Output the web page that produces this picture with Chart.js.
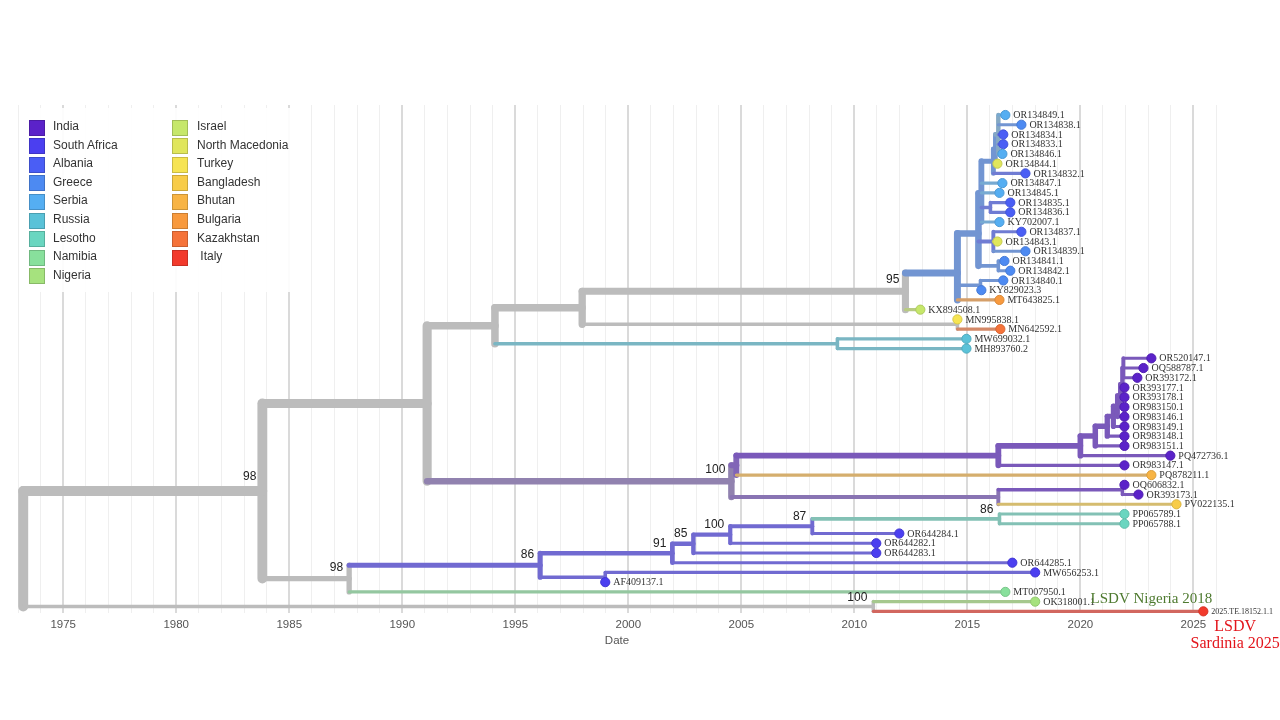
<!DOCTYPE html>
<html><head><meta charset="utf-8">
<script src="https://cdn.jsdelivr.net/npm/chart.js@4.4.1/dist/chart.umd.min.js"></script>
<style>
html,body{margin:0;padding:0;background:#fff;}
#wrap{position:relative;width:1280px;height:720px;overflow:hidden;}
#legend{position:absolute;left:20px;top:108px;width:272px;height:184px;background:rgba(255,255,255,0.9);}
.li{position:absolute;font:12px "Liberation Sans",Arial,sans-serif;color:#333;white-space:pre;line-height:14px;}
.sw{position:absolute;width:14px;height:14px;border:1.5px solid;box-sizing:content-box;}
</style></head><body>
<div id="wrap"><canvas id="c" width="1280" height="720"></canvas><div id="legend"></div></div>
<script>
// ---------------- DATA ----------------
const countries = ['India','South Africa','Albania','Greece','Serbia','Russia','Lesotho','Namibia','Nigeria',
  'Israel','North Macedonia','Turkey','Bangladesh','Bhutan','Bulgaria','Kazakhstan','Italy'];
const yearLabels = [1975,1980,1985,1990,1995,2000,2005,2010,2015,2020,2025];

const tipNames = ['OR134849.1','OR134838.1','OR134834.1','OR134833.1','OR134846.1','OR134844.1','OR134832.1',
  'OR134847.1','OR134845.1','OR134835.1','OR134836.1','KY702007.1','OR134837.1','OR134843.1','OR134839.1',
  'OR134841.1','OR134842.1','OR134840.1','KY829023.3','MT643825.1','KX894508.1','MN995838.1','MN642592.1',
  'MW699032.1','MH893760.2','OR520147.1','OQ588787.1','OR393172.1','OR393177.1','OR393178.1','OR983150.1',
  'OR983146.1','OR983149.1','OR983148.1','OR983151.1','PQ472736.1','OR983147.1','PQ878211.1','OQ606832.1',
  'OR393173.1','PV022135.1','PP065789.1','PP065788.1','OR644284.1','OR644282.1','OR644283.1','OR644285.1',
  'MW656253.1','AF409137.1','MT007950.1','OK318001.1','2025.TE.18152.1.1'];
const tipDates = [2016.68,2017.39,2016.59,2016.59,2016.55,2016.33,2017.57,
  2016.55,2016.42,2016.90,2016.90,2016.42,2017.39,2016.33,2017.57,
  2016.64,2016.90,2016.59,2015.62,2016.42,2012.92,2014.56,2016.46,
  2014.96,2014.96,2023.14,2022.79,2022.52,2021.95,2021.95,2021.95,
  2021.95,2021.95,2021.95,2021.95,2023.98,2021.95,2023.14,2021.95,
  2022.57,2024.25,2021.95,2021.95,2011.99,2010.97,2010.97,2016.99,
  2018.00,1998.98,2016.68,2018.00,2025.44];
const tipCountry = ['Serbia','Greece','Albania','Albania','Serbia','North Macedonia','Albania',
  'Serbia','Serbia','Albania','Albania','Serbia','Albania','North Macedonia','Greece',
  'Greece','Greece','Greece','Greece','Bulgaria','Israel','Turkey','Kazakhstan',
  'Russia','Russia','India','India','India','India','India','India',
  'India','India','India','India','India','India','Bhutan','India',
  'India','Bangladesh','Lesotho','Lesotho','South Africa','South Africa','South Africa','South Africa',
  'South Africa','South Africa','Namibia','Nigeria','Italy'];

// internal nodes: name, date, children (top to bottom), bootstrap support, inferred country, confidence
const nodeNames = ['root','A','B','D','F','G','H','I','Y','P','P1','Q','R','S','T','J','N957','RU',
  'E','E1','N998a','N1080','N1095','N1107','N1113','N1118','N1120','N1122','Z','N998b','N1122b',
  'C','N541','N672','N693','N730','N812','N999','N605','N873'];
const nodeDates = [1973.23,1983.81,1991.10,1994.10,1997.96,2012.26,2014.56,2015.49,2015.62,2016.15,2016.24,2016.37,2016.02,2016.15,2016.37,2015.58,2014.56,2009.25,
  2004.56,2004.78,2016.37,2020.00,2020.66,2021.19,2021.46,2021.64,2021.77,2021.86,2021.90,2016.37,2021.86,
  1987.65,1996.10,2001.95,2002.88,2004.51,2008.14,2016.42,1998.98,2010.84];
const nodeChildren = [
  ['A','N873'], ['B','C'], ['D','E'], ['F','RU'], ['G','N957'], ['H','KX894508.1'],
  ['I','J','MT643825.1'], ['Y','S','T'], ['P','OR134847.1','OR134845.1','R','KY702007.1'],
  ['P1','OR134832.1'], ['Q','OR134844.1'], ['OR134849.1','OR134838.1','OR134834.1','OR134833.1','OR134846.1'],
  ['OR134835.1','OR134836.1'], ['OR134837.1','OR134843.1','OR134839.1'], ['OR134841.1','OR134842.1'],
  ['OR134840.1','KY829023.3'], ['MN995838.1','MN642592.1'], ['MW699032.1','MH893760.2'],
  ['E1','N998b'], ['N998a','PQ878211.1'], ['N1080','OR983147.1'], ['N1095','PQ472736.1'],
  ['N1107','OR983151.1'], ['N1113','OR983148.1'], ['N1118','OR983149.1'], ['N1120','OR983146.1'],
  ['N1122','OR983150.1'], ['Z','OR393177.1','OR393178.1'], ['OR520147.1','OQ588787.1','OR393172.1'],
  ['N1122b','PV022135.1'], ['OQ606832.1','OR393173.1'],
  ['N541','MT007950.1'], ['N672','N605'], ['N693','OR644285.1'], ['N730','OR644283.1'],
  ['N812','OR644282.1'], ['N999','OR644284.1'], ['PP065789.1','PP065788.1'],
  ['MW656253.1','AF409137.1'], ['OK318001.1','2025.TE.18152.1.1']];
const nodeSupport = ['', '98','','','','95','','','','','','','','','','','','',
  '100','','','','','','','','','','','','',
  '98','86','91','85','100','87','86','','100'];
const nodeState = [null,null,null,null,null,null,'Greece','Greece','Greece','Greece','Greece','Serbia','Albania','Albania','Greece','Greece',null,'Russia',
  'India','India','India','India','India','India','India','India','India','India','India','India','India',
  null,'South Africa','South Africa','South Africa','South Africa','South Africa','Lesotho','South Africa',null];
const nodeConfidence = [1,1,1,1,1,1,1,1,1,1,1,0.6,1,1,1,1,1,1,
  0.3,0.8,1,1,1,1,1,1,1,1,1,0.55,1,
  1,1,1,1,1,1,1,1,1];
const annotationNigeria = 'LSDV Nigeria 2018';
const annotationItaly = ['LSDV','Sardinia 2025'];

// ---------------- STYLE ----------------
const colorOf = {
  'India':'#5b22c9','South Africa':'#4b3ff0','Albania':'#4a5ef5','Greece':'#4d8af2','Serbia':'#55aef2',
  'Russia':'#5ac2d8','Lesotho':'#6ad6c0','Namibia':'#88e09c','Nigeria':'#a6e27e','Israel':'#c6e76a',
  'North Macedonia':'#e0e65c','Turkey':'#f6e452','Bangladesh':'#f8cc48','Bhutan':'#f8b444',
  'Bulgaria':'#f89a3e','Kazakhstan':'#f5733a','Italy':'#f23a2c'};
function hex2rgb(h){return [parseInt(h.slice(1,3),16),parseInt(h.slice(3,5),16),parseInt(h.slice(5,7),16)];}
function mix(h, g, k){const a=hex2rgb(h);return 'rgb('+a.map(v=>Math.round(v*(1-k)+g*k)).join(',')+')';}
function darker(h, k){const a=hex2rgb(h);return 'rgb('+a.map(v=>Math.round(v*(1-k))).join(',')+')';}
const GRAY = '#bcbcbc';

// ---------------- TREE BUILD ----------------
const info = {};
tipNames.forEach((nm,i)=>{info[nm]={name:nm,x:tipDates[i],y:i,n:1,state:tipCountry[i],conf:1,tip:true};});
function resolve(nm){
  if(info[nm]) return info[nm];
  const k = nodeNames.indexOf(nm);
  const ch = nodeChildren[k].map(resolve);
  const o = {name:nm,x:nodeDates[k],y:ch.reduce((s,c)=>s+c.y,0)/ch.length,n:ch.reduce((s,c)=>s+c.n,0),
    state:nodeState[k],conf:nodeConfidence[k],support:nodeSupport[k],children:ch,tip:false};
  ch.forEach(c=>c.parent=o);
  info[nm]=o; return o;
}
const root = resolve('root');
const total = root.n;
const widthOf = n => 2 + 8*Math.sqrt(n/total);
function branchColor(o){
  if(!o.state) return GRAY;
  return mix(colorOf[o.state], 165, 0.42 + 0.45*(1-o.conf));
}
const segs = [];
(function walk(o){
  const w = widthOf(o.n), col = branchColor(o);
  if(o.parent) segs.push({n:o.n, pts:[{x:o.parent.x,y:o.y},{x:o.x,y:o.y}], w, col});
  if(!o.tip){
    const ys = o.children.map(c=>c.y);
    segs.push({n:o.n, pts:[{x:o.x,y:Math.min(...ys)},{x:o.x,y:Math.max(...ys)}], w, col});
    o.children.forEach(walk);
  }
})(root);
segs.sort((a,b)=>a.n-b.n);

const datasets = [];
datasets.push({
  type:'scatter',
  data: tipNames.map((nm,i)=>({x:tipDates[i], y:i})),
  pointRadius:4.6, pointHoverRadius:4.6,
  pointBackgroundColor: tipCountry.map(c=>colorOf[c]),
  pointBorderColor: tipCountry.map(c=>darker(colorOf[c],0.12)),
  pointBorderWidth:1, clip:false
});
segs.forEach(s=>datasets.push({
  type:'line', data:s.pts, borderColor:s.col, borderWidth:s.w, pointRadius:0, pointHoverRadius:0,
  borderCapStyle:'round', borderJoinStyle:'round', tension:0, fill:false, clip:false
}));

// ---------------- LABEL PLUGIN ----------------
const treeLabels = {
  id:'treeLabels',
  afterDatasetsDraw(chart){
    const {ctx, scales:{x, y}} = chart;
    ctx.save();
    ctx.textBaseline='middle';
    ctx.textAlign='left';
    ctx.fillStyle='#333';
    tipNames.forEach((nm,i)=>{
      const sz = nm.length>12 ? 8 : 10;
      ctx.font = sz+'px "Liberation Serif","Times New Roman",serif';
      ctx.fillText(nm, x.getPixelForValue(tipDates[i])+8, y.getPixelForValue(i)+0.5);
    });
    ctx.font='12px "Liberation Sans",Arial,sans-serif';
    ctx.textAlign='right';
    ctx.fillStyle='#222';
    nodeNames.forEach(nm=>{
      const o = info[nm];
      if(o.support){
        const w = widthOf(o.n);
        ctx.fillText(o.support, x.getPixelForValue(o.x)-6, y.getPixelForValue(o.y)-6.5-0.75*w);
      }
    });
    // annotations
    ctx.textAlign='left';
    ctx.font='15px "Liberation Serif","Times New Roman",serif';
    ctx.fillStyle='#4e7a2f';
    ctx.fillText(annotationNigeria, x.getPixelForValue(2020.45), y.getPixelForValue(50)-3);
    ctx.textAlign='center';
    ctx.font='16px "Liberation Serif","Times New Roman",serif';
    ctx.fillStyle='#e3151c';
    const cx = x.getPixelForValue(2026.85), by = y.getPixelForValue(51);
    ctx.fillText(annotationItaly[0], cx, by+15);
    ctx.fillText(annotationItaly[1], cx, by+32);
    ctx.restore();
  }
};

Chart.defaults.font.family = '"Liberation Sans", Arial, sans-serif';
new Chart(document.getElementById('c'), {
  data:{datasets},
  options:{
    responsive:false, animation:false, events:[],
    layout:{padding:{left:18,right:64,top:105,bottom:72}},
    plugins:{legend:{display:false}, tooltip:{enabled:false}},
    scales:{
      x:{type:'linear', min:1973, max:2026,
        border:{display:false},
        grid:{drawTicks:false,
          color:c=>yearLabels.includes(Math.round(c.tick.value))?'#dadada':'#efefef',
          lineWidth:c=>yearLabels.includes(Math.round(c.tick.value))?2:1},
        ticks:{stepSize:1, autoSkip:false, maxRotation:0, padding:5, color:'#555', font:{size:11.5},
          callback:v=>yearLabels.includes(Math.round(v))?String(Math.round(v)):''},
        title:{display:true, text:'Date', color:'#555', font:{size:11.5}, padding:{top:-3,bottom:0}}
      },
      y:{type:'linear', reverse:true, min:-1.028, max:51.21, display:false}
    }
  },
  plugins:[treeLabels]
});

// ---------------- HTML LEGEND ----------------
const lg = document.getElementById('legend');
countries.forEach((c,i)=>{
  const col = i<9?0:1, row = i<9?i:i-9;
  const top = 127 - 108 + 18.6*row;
  const sw = document.createElement('div');
  sw.className='sw';
  sw.style.left = (col?152:9)+'px';
  sw.style.top = (top-7.5)+'px';
  sw.style.background = colorOf[c];
  sw.style.borderColor = darker(colorOf[c],0.18);
  lg.appendChild(sw);
  const t = document.createElement('div');
  t.className='li';
  t.style.left = (col?177:33)+'px';
  t.style.top = (top-8)+'px';
  t.textContent = (c==='Italy'?' ':'')+c;
  lg.appendChild(t);
});
</script>
</body></html>
